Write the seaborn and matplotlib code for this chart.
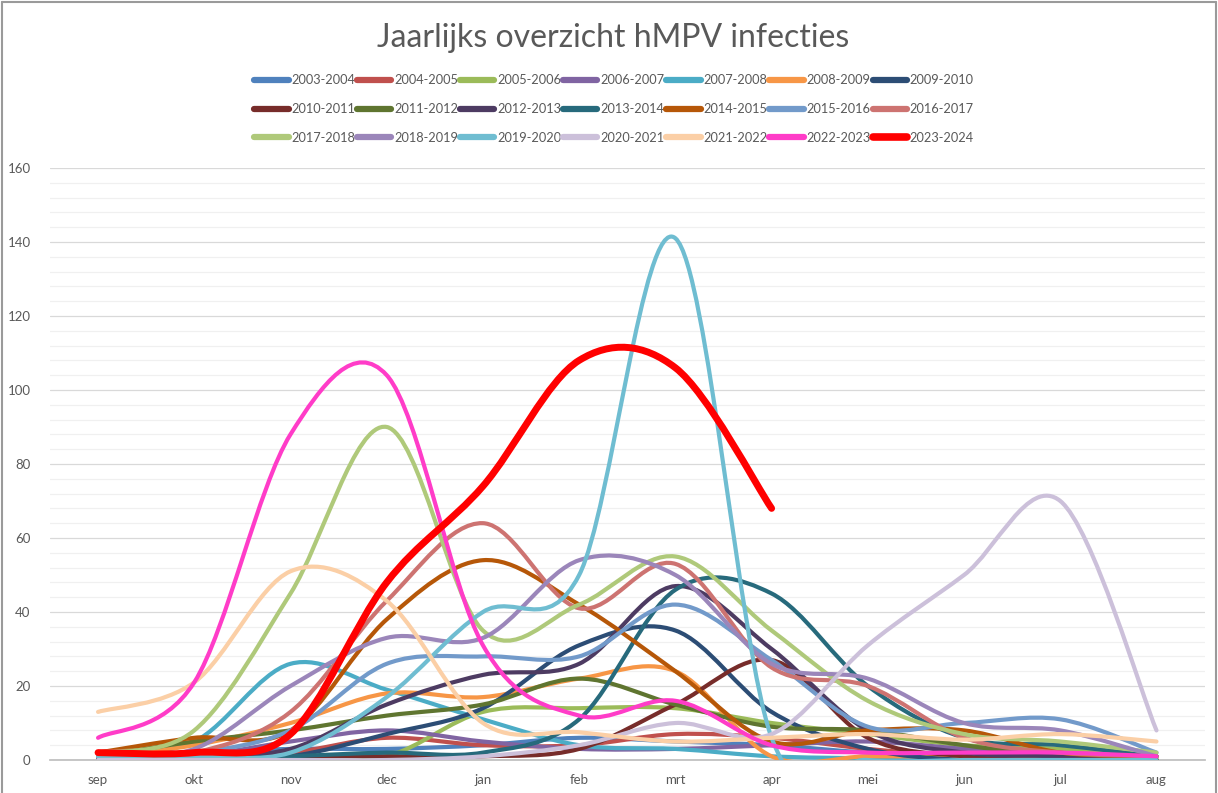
import matplotlib
matplotlib.use("Agg")
import matplotlib.pyplot as plt
import seaborn as sns
import numpy as np
from matplotlib.path import Path
from matplotlib.patches import PathPatch
from matplotlib.lines import Line2D
from matplotlib.ticker import MultipleLocator

# Maanden (sep t/m aug)
months = ['sep', 'okt', 'nov', 'dec', 'jan', 'feb', 'mrt', 'apr', 'mei', 'jun', 'jul', 'aug']

seasons = ['2003-2004', '2004-2005', '2005-2006', '2006-2007', '2007-2008', '2008-2009',
           '2009-2010', '2010-2011', '2011-2012', '2012-2013', '2013-2014', '2014-2015',
           '2015-2016', '2016-2017', '2017-2018', '2018-2019', '2019-2020', '2020-2021',
           '2021-2022', '2022-2023', '2023-2024']

s2003 = [1, 2, 3, 3, 4, 6, 5, 4, 2, 1, 1, 0]
s2004 = [0, 1, 2, 6, 4, 4, 7, 6, 3, 1, 0, 0]
s2005 = [0, 0, 0, 1, 13, 14, 14, 10, 7, 4, 3, 1]
s2006 = [0, 1, 5, 8, 5, 3, 3, 4, 5, 3, 1, 0]
s2007 = [1.5, 5, 26, 19, 11, 4, 3, 1, 0.5, 0.5, 1, 1]
s2008 = [1, 4, 10, 18, 17, 22, 24, 1, 1, 1, 1, 0.5]
s2009 = [0, 0, 1, 7, 14, 31, 35, 13, 3, 0, 0, 0]
s2010 = [0, 0, 1, 1, 1, 3, 15, 27, 6, 1, 0, 0]
s2011 = [1, 5, 8, 12, 15, 22, 15, 9, 8, 4, 1, 0]
s2012 = [0, 1, 3, 15, 23, 26, 47, 30, 8, 2, 1, 0]
s2013 = [0, 0, 1, 2, 2, 11, 46, 45, 20, 6, 4, 1]
s2014 = [2, 6, 8, 38, 54, 42, 24, 5, 8, 8, 2, 1]
s2015 = [1, 2, 8, 26, 28, 28, 42, 27, 9, 10, 11, 2]
s2016 = [1, 2, 13, 43, 64, 41, 53, 25, 20, 6, 2, 1]
s2017 = [2, 8, 45, 90, 35, 42, 55, 35, 16, 7, 5, 2]
s2018 = [1, 3, 20, 33, 33, 54, 50, 26, 22, 10, 8, 1]
s2019 = [1, 1, 2, 17, 40, 50, 141, 6, 0, 0, 0, 0]
s2020 = [0, 0, 0, 0, 1, 4, 10, 7, 31, 50, 70, 8]
s2021 = [13, 21, 51, 43, 10, 7.5, 5, 6, 7, 5.5, 7, 5]
s2022 = [6, 21, 88, 104, 31, 12, 16, 4, 2, 2, 2, 1]
s2023 = [2, 2, 7, 48, 74, 108, 106, 68]

values = [s2003, s2004, s2005, s2006, s2007, s2008, s2009, s2010, s2011, s2012, s2013,
          s2014, s2015, s2016, s2017, s2018, s2019, s2020, s2021, s2022, s2023]

colors = ['#4F81BD', '#C0504D', '#9BBB59', '#8064A2', '#4BACC6', '#F79646', '#2C4D75',
          '#772C2A', '#5F7530', '#4D3B62', '#276A7C', '#B65708', '#729ACA', '#CD7371',
          '#AFC97A', '#9B86BA', '#6FBDD1', '#CCC0DA', '#FBCFA6', '#FF3CC8', '#FF0000']

sns.set_theme(style="white")
plt.rcParams['font.family'] = ['Lato', 'DejaVu Sans']
palette = sns.color_palette(colors)
grey = '#595959'


def smooth_path(ys):
    # Excel-achtige "vloeiende lijn": Bezier door de datapunten
    pts = np.column_stack([np.arange(len(ys)), np.array(ys, dtype=float)])
    ext = np.vstack([pts[0], pts, pts[-1]])
    verts = [pts[0]]
    codes = [Path.MOVETO]
    for i in range(len(pts) - 1):
        p0, p1, p2, p3 = ext[i], ext[i + 1], ext[i + 2], ext[i + 3]
        verts += [p1 + (p2 - p0) / 6, p2 - (p3 - p1) / 6, p2]
        codes += [Path.CURVE4] * 3
    return Path(verts, codes)


fig = plt.figure(figsize=(12.18, 7.93), dpi=100)
ax = fig.add_axes([0.041, 0.0416, 0.948, 0.7466])

for name, ys, col in zip(seasons, values, palette):
    lw = 5.0 if name == '2023-2024' else 3.0
    ax.add_patch(PathPatch(smooth_path(ys), fill=False, edgecolor=col, lw=lw,
                           capstyle='round', joinstyle='round', zorder=3))

ax.set_xlim(-0.5, 11.5)
ax.set_ylim(0, 160)
ax.set_xticks(range(len(months)), months)
ax.yaxis.set_major_locator(MultipleLocator(20))
ax.yaxis.set_minor_locator(MultipleLocator(4))
ax.grid(which='major', axis='y', color='#D9D9D9', lw=0.9)
ax.grid(which='minor', axis='y', color='#F0F0F0', lw=0.9)
ax.set_axisbelow(True)
sns.despine(ax=ax, left=True, right=True, top=True)
ax.spines['bottom'].set_color('#BFBFBF')
ax.tick_params(axis='both', which='both', length=0, labelsize=9.5, colors=grey)
ax.tick_params(axis='y', pad=14)
ax.tick_params(axis='x', pad=10)

fig.text(0.503, 0.952, 'Jaarlijks overzicht hMPV infecties', ha='center', va='center',
         fontsize=23, color=grey)

# legenda: 3 rijen van 7, rij voor rij gevuld
handles = [Line2D([], [], color=c, lw=4.5, solid_capstyle='round') for c in palette]
handles[-1] = Line2D([], [], color=palette[-1], lw=5.5, solid_capstyle='round')
order = [r * 7 + c for c in range(7) for r in range(3)]
fig.legend([handles[i] for i in order], [seasons[i] for i in order], ncol=7, loc='center',
           bbox_to_anchor=(0.504, 0.8625), frameon=False, fontsize=9.2, labelcolor=grey,
           handlelength=2.7, handletextpad=0.2, columnspacing=0.15, labelspacing=1.3)

# kader om de grafiek
for xs, ys in [([0.002, 0.002], [0, 0.998]), ([0.002, 0.998], [0.998, 0.998]),
               ([0.998, 0.998], [0, 0.998])]:
    fig.add_artist(Line2D(xs, ys, transform=fig.transFigure, color='#9A9A9A', lw=1.5))

fig.savefig('out.png', dpi=100)
